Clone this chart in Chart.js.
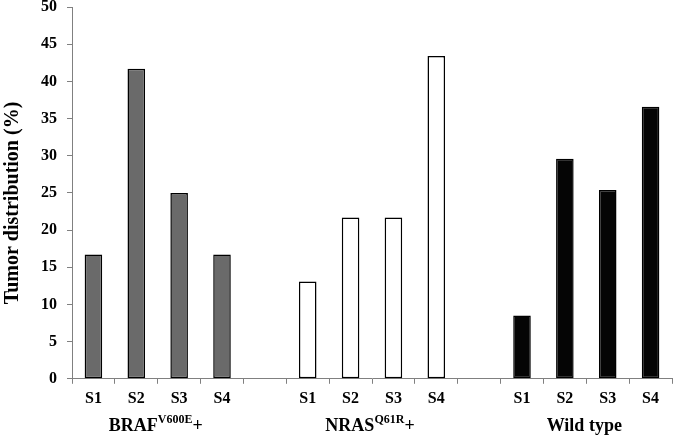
<!DOCTYPE html>
<html>
<head>
<meta charset="utf-8">
<script src="https://cdn.jsdelivr.net/npm/chart.js@4"></script>
<style>
html,body{margin:0;padding:0;background:#fff;}
#wrap{width:674px;height:441px;}
</style>
</head>
<body>
<div id="wrap"><canvas id="c" width="674" height="441"></canvas></div>
<script>
const categories = ["S1","S2","S3","S4","","S1","S2","S3","S4","","S1","S2","S3","S4"];
const brafValues = [16.7, 41.7, 25.0, 16.7, null, null, null, null, null, null, null, null, null, null];
const nrasValues = [null, null, null, null, null, 13.1, 21.7, 21.7, 43.4, null, null, null, null, null];
const wildValues = [null, null, null, null, null, null, null, null, null, null, 8.5, 29.6, 25.4, 36.6];
const groupNames = [["BRAF","V600E","+"],["NRAS","Q61R","+"],["Wild type","",""]];
const groupCenters = [1.5, 6.5, 11.5];
const yTicks = [0,5,10,15,20,25,30,35,40,45,50];
const yTitle = 'Tumor distribution (%)';

const serif = "'Liberation Serif','Times New Roman',serif";

const groupLabelPlugin = {
  id: 'groupLabels',
  afterDraw(chart) {
    const ctx = chart.ctx;
    const xs = chart.scales.x;
    ctx.save();
    ctx.fillStyle = '#000';
    ctx.textBaseline = 'alphabetic';
    groupNames.forEach((g, i) => {
      const cx = xs.getPixelForValue(groupCenters[i]);
      const mainFont = "bold 18px " + serif;
      const supFont = "bold 12px " + serif;
      ctx.font = mainFont; const w1 = ctx.measureText(g[0]).width;
      ctx.font = supFont; const w2 = ctx.measureText(g[1]).width;
      ctx.font = mainFont; const w3 = ctx.measureText(g[2]).width;
      let x = cx - (w1 + w2 + w3) / 2 - 2;
      const y = 430.5;
      ctx.font = mainFont; ctx.textAlign = 'left';
      ctx.fillText(g[0], x, y); x += w1;
      ctx.font = supFont; ctx.fillText(g[1], x, y - 8); x += w2;
      ctx.font = mainFont; ctx.fillText(g[2], x, y);
    });
    // y axis title
    ctx.translate(13, 203);
    ctx.rotate(-Math.PI / 2);
    ctx.font = "bold 20px " + serif;
    ctx.textAlign = 'center';
    ctx.textBaseline = 'middle';
    ctx.fillText(yTitle, 0, 0);
    ctx.restore();
  }
};

const common = {borderColor:'#000', borderWidth:1.5, barPercentage:0.41, categoryPercentage:1.0, grouped:false, borderSkipped:false};

new Chart(document.getElementById('c'), {
  type: 'bar',
  data: {
    labels: categories,
    datasets: [
      Object.assign({label:'BRAF', data: brafValues, backgroundColor:'#6a6a6a'}, common),
      Object.assign({label:'NRAS', data: nrasValues, backgroundColor:'#ffffff'}, common),
      Object.assign({label:'Wild', data: wildValues, backgroundColor:'#050505'}, common)
    ]
  },
  options: {
    responsive: false,
    animation: false,
    layout: {padding: {top: 0, right: 2, bottom: 28, left: 0}},
    plugins: {legend: {display:false}, tooltip: {enabled:false}},
    scales: {
      x: {
        offset: true,
        grid: {display: true, offset: true, drawOnChartArea: false, drawTicks: true, tickLength: 5, color: '#808080', lineWidth: 1},
        border: {display: true, color: '#808080', width: 1},
        ticks: {color:'#000', font:{family: serif, size: 16, weight:'bold'}, padding: 5, maxRotation:0, autoSkip:false}
      },
      y: {
        min: 0, max: 50,
        afterBuildTicks(scale){ scale.ticks = yTicks.map(v => ({value: v})); },
        afterFit(scale){ scale.width = 72; scale.paddingTop = 7; },
        grid: {display: true, drawOnChartArea: false, drawTicks: true, tickLength: 5, color: '#808080'},
        border: {display: true, color: '#808080', width: 1},
        ticks: {color:'#000', font:{family: serif, size: 16, weight:'bold'}, padding: 10},
        title: {display: false}
      }
    }
  },
  plugins: [groupLabelPlugin]
});
</script>
</body>
</html>
